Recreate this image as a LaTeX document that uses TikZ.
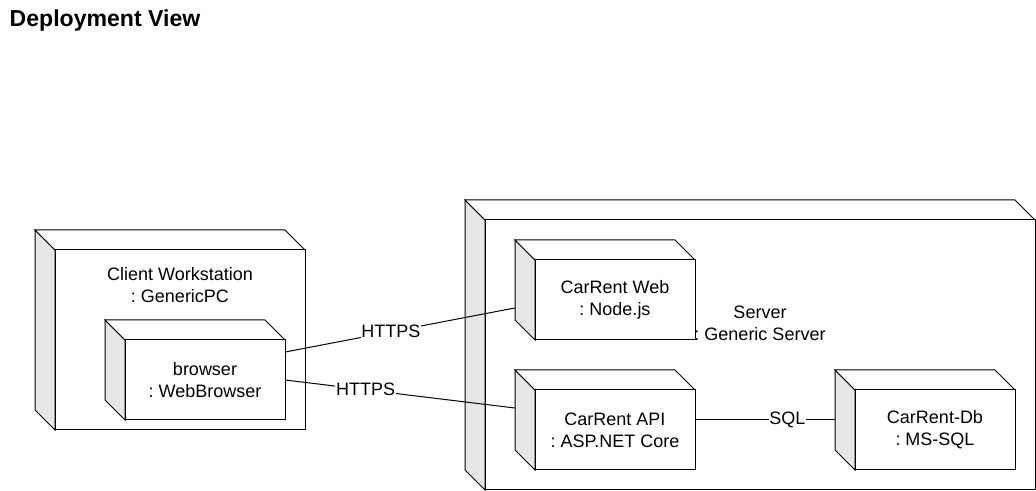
\documentclass[tikz,border=0pt]{standalone}
\usepackage{fontspec}
\setmainfont{Liberation Sans}
\frenchspacing
\definecolor{sidegray}{HTML}{E6E6E6}
\tikzset{
  face/.style={draw, line width=0.75pt, fill=white},
  side/.style={face, fill=sidegray},
  lbl/.style={align=center, font=\fontsize{13.5}{16.5}\selectfont},
  conn/.style={draw, line width=0.75pt},
  tag/.style={fill=white, inner sep=0.5pt, font=\fontsize{13.5}{15}\selectfont}
}
% 3D deployment node: name, x, y, width, height
\newcommand\depnode[5]{%
  \draw[side] (#2,#3) -- (#2+20,#3+20) -- (#2+20,#3+#5) -- (#2,#3+#5-20) -- cycle;
  \draw[face] (#2,#3) -- (#2+#4-20,#3) -- (#2+#4,#3+20) -- (#2+20,#3+20) -- cycle;
  \draw[face] (#2+20,#3+20) rectangle (#2+#4,#3+#5);
  \node[inner sep=0pt, minimum width={#4*0.75pt}, minimum height={#5*0.75pt}] (#1) at (#2+#4/2,#3+#5/2) {};
}
\begin{document}
\begin{tikzpicture}[x=0.75pt, y=-0.75pt]
  \useasboundingbox (0,0) rectangle (1036,491);
  \node[anchor=west, font=\fontsize{17.3}{20}\selectfont\bfseries] (title) at (5,21) {Deployment View};

  % client side
  \depnode{client}{35}{230}{270}{200}
  \node[lbl] (clientlbl) at (180,285) {Client Workstation\\: GenericPC};
  \depnode{browser}{105}{320}{180}{100}
  \node[lbl] (browserlbl) at (205,380) {browser\\: WebBrowser};

  % server side
  \depnode{server}{465}{200}{570}{290}
  \node[lbl] (serverlbl) at (760,323) {Server\\: Generic Server};
  \depnode{web}{515}{240}{180}{100}
  \node[lbl] (weblbl) at (615,300) {CarRent Web\\: Node.js};
  \depnode{api}{515}{370}{180}{100}
  \node[lbl] (apilbl) at (615,430) {CarRent API\\: ASP.NET Core};
  \depnode{db}{835}{370}{180}{100}
  \node[lbl] (dblbl) at (935,430) {CarRent-Db\\: MS-SQL};

  % connections
  \draw[conn] ([yshift=13.5pt]browser.east) -- node[tag, pos=0.46]{HTTPS} ([yshift=-13.5pt]web.west);
  \draw[conn] ([yshift=-7.5pt]browser.east) -- node[tag, pos=0.35]{HTTPS} ([yshift=9pt]api.west);
  \draw[conn] (api.east) -- node[tag, pos=0.66]{SQL} (db.west);
\end{tikzpicture}
\end{document}
